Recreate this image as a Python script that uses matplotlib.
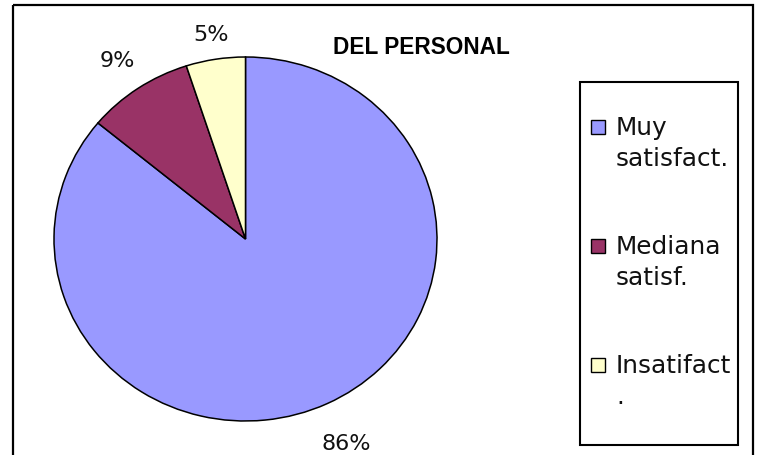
import matplotlib
matplotlib.use('Agg')
import numpy as np
import matplotlib.pyplot as plt
from matplotlib.patches import Rectangle

W, H = 759, 456

TITLE = 'DEL PERSONAL'
CATEGORIES = ['Muy\nsatisfact.', 'Mediana\nsatisf.', 'Insatifact\n.']
SHARES = [86, 9, 5]
COLORS = ['#9999FF', '#993366', '#FFFFCC']
LABEL_DIST = [1.24, 1.19, 1.14]


def px_rect(x0, y0, x1, y1):
    # figure fraction box from pixel coords (origin top-left)
    return [x0 / W, 1 - y1 / H, (x1 - x0) / W, (y1 - y0) / H]


fig = plt.figure(figsize=(W / 100, H / 100), dpi=100)
fig.patch.set_facecolor('white')

# overlay in pixel units for frame, title and legend
bg = fig.add_axes([0, 0, 1, 1])
bg.set_xlim(0, W)
bg.set_ylim(H, 0)
bg.axis('off')

bg.add_patch(Rectangle((13, 6), 740, 460, fill=False, edgecolor='black', linewidth=1.6))

bg.text(421, 47, TITLE, ha='center', va='center', fontsize=16.3,
        fontweight='bold', family='Liberation Sans', color='black')

# pie, slightly wider than tall
ax = fig.add_axes(px_rect(54, 58, 437, 422))
wedges, _, pcts = ax.pie(SHARES, colors=COLORS, startangle=90, counterclock=False,
                         autopct='%1.0f%%', pctdistance=1.2, radius=1,
                         wedgeprops=dict(edgecolor='black', linewidth=1.1))
for w, t, d in zip(wedges, pcts, LABEL_DIST):
    mid = np.deg2rad((w.theta1 + w.theta2) / 2)
    t.set_position((d * np.cos(mid), d * np.sin(mid)))
    t.set_fontsize(16)
    t.set_family('DejaVu Sans')
    t.set_color('#111111')
ax.set_aspect('auto')
ax.set_xlim(-1, 1)
ax.set_ylim(-1, 1)
ax.axis('off')

# legend box
bg.add_patch(Rectangle((580, 83), 158, 363, fill=False, edgecolor='black', linewidth=1.5))
for i, (label, color) in enumerate(zip(CATEGORIES, COLORS)):
    top = 117 + i * 119
    bg.add_patch(Rectangle((591, top + 4), 14, 14, facecolor=color,
                           edgecolor='black', linewidth=1.0))
    bg.text(616, top - 1, label, ha='left', va='top', fontsize=17.8,
            family='DejaVu Sans', color='#111111', linespacing=1.35)

fig.savefig('out.png', dpi=100)
